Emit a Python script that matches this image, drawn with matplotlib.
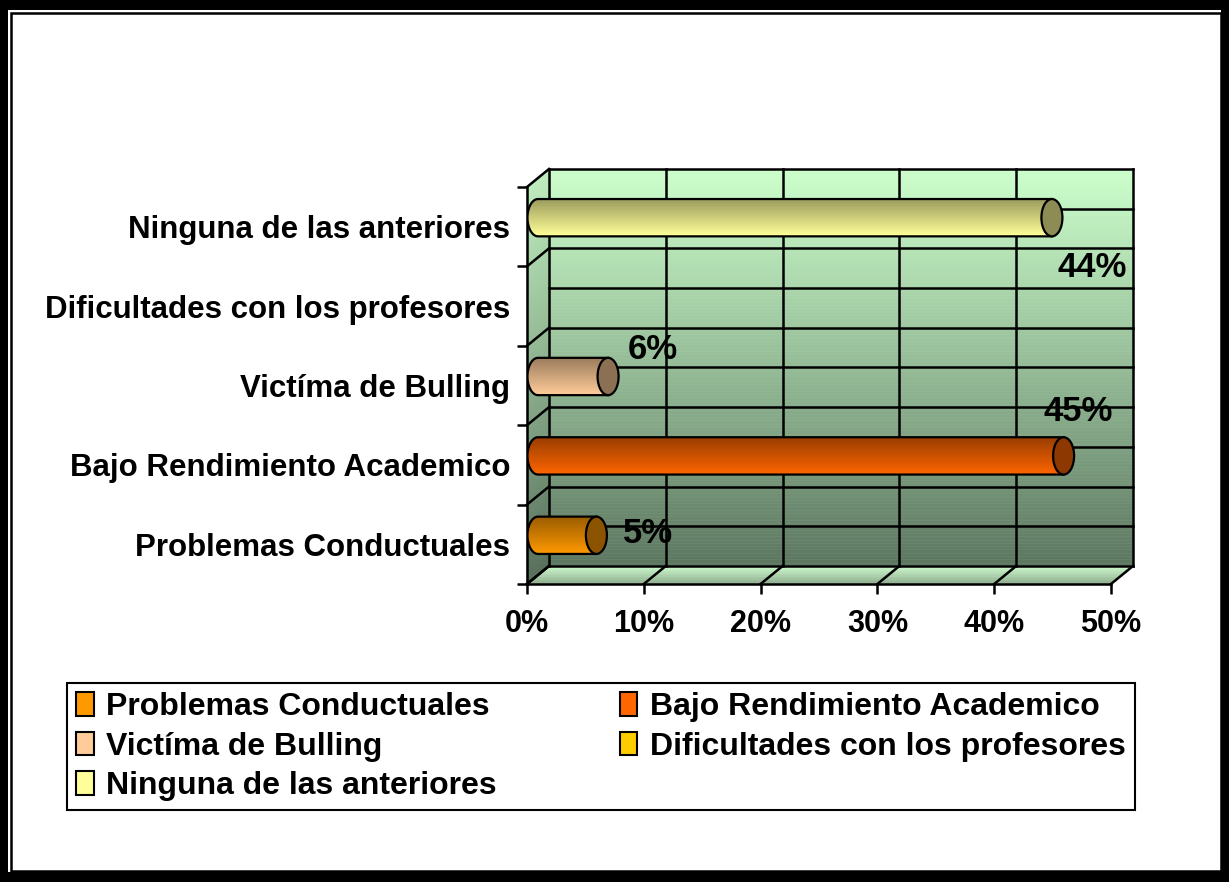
import numpy as np
import matplotlib.pyplot as plt
from matplotlib.patches import Rectangle, Ellipse, PathPatch, Patch
from matplotlib.path import Path
from matplotlib.collections import PolyCollection
from matplotlib.colors import to_rgb

categorias = ['Problemas Conductuales', 'Bajo Rendimiento Academico', 'Victíma de Bulling',
              'Dificultades con los profesores', 'Ninguna de las anteriores']
valores = [5, 45, 6, 0, 44]
etiquetas = ['5%', '45%', '6%', '', '44%']
colores = ['#FF9900', '#FF6600', '#FFCC99', '#FFCC00', '#FFFF99']
x_ticks = [0, 10, 20, 30, 40, 50]
x_labels = ['0%', '10%', '20%', '30%', '40%', '50%']

# where excel dropped the value labels (offset from bar end / category centre)
lab_off = [(5.4, 0.14), (2.2, 0.67), (4.8, 0.45), (0, 0), (4.4, -0.52)]

plt.rcParams['font.family'] = ['Liberation Sans', 'DejaVu Sans']
plt.rcParams['font.weight'] = 'bold'

W, H = 1229, 882
fig = plt.figure(figsize=(W / 100, H / 100), dpi=100)
fig.patch.set_facecolor('black')
fig.add_artist(Rectangle((8 / W, 1 - 872 / H), (1221 - 8) / W, (872 - 10) / H,
                         transform=fig.transFigure, facecolor='white', edgecolor='none', zorder=-2))
fig.add_artist(Rectangle((10.5 / W, 1 - 871 / H), (1221 - 10.5) / W, (871 - 12.5) / H,
                         transform=fig.transFigure, facecolor='white', edgecolor='black', lw=1.8,
                         zorder=-1))

ax = fig.add_axes([527 / W, 1 - 584 / H, 584 / W, 397 / H])
ax.set_facecolor('none')

# depth of the 3d box in data units
DX, DY = 1.884, 0.227

top = np.array([204, 255, 204]) / 255
bot = np.array([92, 118, 96]) / 255
n = 120
ys = np.linspace(0, 5, n + 1)
back, side, cols = [], [], []
for k in range(n):
    y0, y1 = ys[k], ys[k + 1]
    back.append([(DX, y0 + DY), (50 + DX, y0 + DY), (50 + DX, y1 + DY), (DX, y1 + DY)])
    side.append([(0, y0), (DX, y0 + DY), (DX, y1 + DY), (0, y1)])
    t = (y0 + y1) / 10
    cols.append(bot + (top - bot) * t)
ax.add_collection(PolyCollection(back, facecolors=cols, edgecolors=cols, lw=0.4,
                                 clip_on=False, zorder=0))
cols_side = [c * 0.93 for c in cols]
ax.add_collection(PolyCollection(side, facecolors=cols_side, edgecolors=cols_side, lw=0.4,
                                 clip_on=False, zorder=0))

# floor
f_front = np.array([140, 170, 140]) / 255
f_back = np.array([205, 250, 205]) / 255
ts = np.linspace(0, 1, 13)
floor, fcols = [], []
for k in range(len(ts) - 1):
    t0, t1 = ts[k], ts[k + 1]
    floor.append([(t0 * DX, t0 * DY), (50 + t0 * DX, t0 * DY), (50 + t1 * DX, t1 * DY), (t1 * DX, t1 * DY)])
    fcols.append(f_front + (f_back - f_front) * (t0 + t1) / 2)
ax.add_collection(PolyCollection(floor, facecolors=fcols, edgecolors=fcols, lw=0.4,
                                 clip_on=False, zorder=0))

lw_g = 1.8
for y in np.arange(0, 5.01, 0.5):
    ax.plot([DX, 50 + DX], [y + DY, y + DY], color='black', lw=lw_g, clip_on=False, zorder=1)
for x in x_ticks:
    ax.plot([x + DX, x + DX], [DY, 5 + DY], color='black', lw=lw_g, clip_on=False, zorder=1)
    ax.plot([x, x + DX], [0, DY], color='black', lw=lw_g, clip_on=False, zorder=1)
for k in range(6):
    ax.plot([0, DX], [k, k + DY], color='black', lw=lw_g, clip_on=False, zorder=1)

# cylinders
r, a = 0.235, 0.9
for i, (v, c) in enumerate(zip(valores, colores)):
    if v <= 0:
        continue
    base = np.array(to_rgb(c))
    yc = i + 0.5 + DY / 2
    x0, x1 = DX / 2, v + DX / 2
    th = np.linspace(np.pi / 2, 3 * np.pi / 2, 40)
    left = np.column_stack([x0 + a * np.cos(th), yc + r * np.sin(th)])
    verts = np.vstack([[[x1, yc + r]], left, [[x1, yc - r]], [[x1, yc + r]]])
    codes = [Path.MOVETO] + [Path.LINETO] * (len(verts) - 2) + [Path.CLOSEPOLY]
    body = PathPatch(Path(verts, codes), facecolor='none', edgecolor='black', lw=1.6, zorder=4)
    ax.add_patch(body)
    fac = np.linspace(0.6, 1.0, 60)
    grad = np.clip(base[None, :] * fac[:, None], 0, 1)[:, None, :]
    im = ax.imshow(grad, extent=[x0 - a, x1, yc - r, yc + r], aspect='auto',
                   origin='upper', zorder=3, interpolation='bilinear')
    im.set_clip_path(body)
    ax.add_patch(Ellipse((x1, yc), 2 * a, 2 * r, facecolor=base * 0.55,
                         edgecolor='black', lw=1.6, zorder=5))
    ox, oy = lab_off[i]
    ax.text(v + ox, i + 0.5 + oy, etiquetas[i], ha='center', va='center',
            fontsize=25, fontweight='bold', zorder=6)

ax.set_xlim(0, 50)
ax.set_ylim(0, 5)
ax.set_aspect('auto')

for s in ['top', 'right']:
    ax.spines[s].set_visible(False)
for s in ['left', 'bottom']:
    ax.spines[s].set_linewidth(1.8)
    ax.spines[s].set_zorder(2)

ax.set_xticks(x_ticks)
ax.set_xticklabels(x_labels, fontsize=22, fontweight='bold')
ax.tick_params(axis='x', length=7.2, width=1.8, pad=11)
ax.set_yticks(range(6))
ax.set_yticks(np.arange(0.5, 5, 1), minor=True)
ax.set_yticklabels(categorias, minor=True, fontsize=22.5, fontweight='bold')
ax.tick_params(axis='y', which='major', length=7.2, width=1.8, labelleft=False)
ax.tick_params(axis='y', which='minor', length=0, pad=12)

handles = [Patch(facecolor=c, edgecolor='black', lw=1.5) for c in colores]
order = [0, 2, 4, 1, 3]
leg = fig.legend([handles[k] for k in order], [categorias[k] for k in order],
                 loc='upper left', bbox_to_anchor=(67 / W, 1 - 806 / H, (1135 - 67) / W, 123 / H),
                 mode='expand', ncol=2, borderaxespad=0,
                 prop={'weight': 'bold', 'size': 23}, handlelength=0.55, handleheight=0.75,
                 handletextpad=0.4, borderpad=0.28, labelspacing=0.3, fancybox=False,
                 edgecolor='black', framealpha=1)
leg.get_frame().set_linewidth(1.5)

fig.savefig('out.png', dpi=100, facecolor=fig.get_facecolor())
